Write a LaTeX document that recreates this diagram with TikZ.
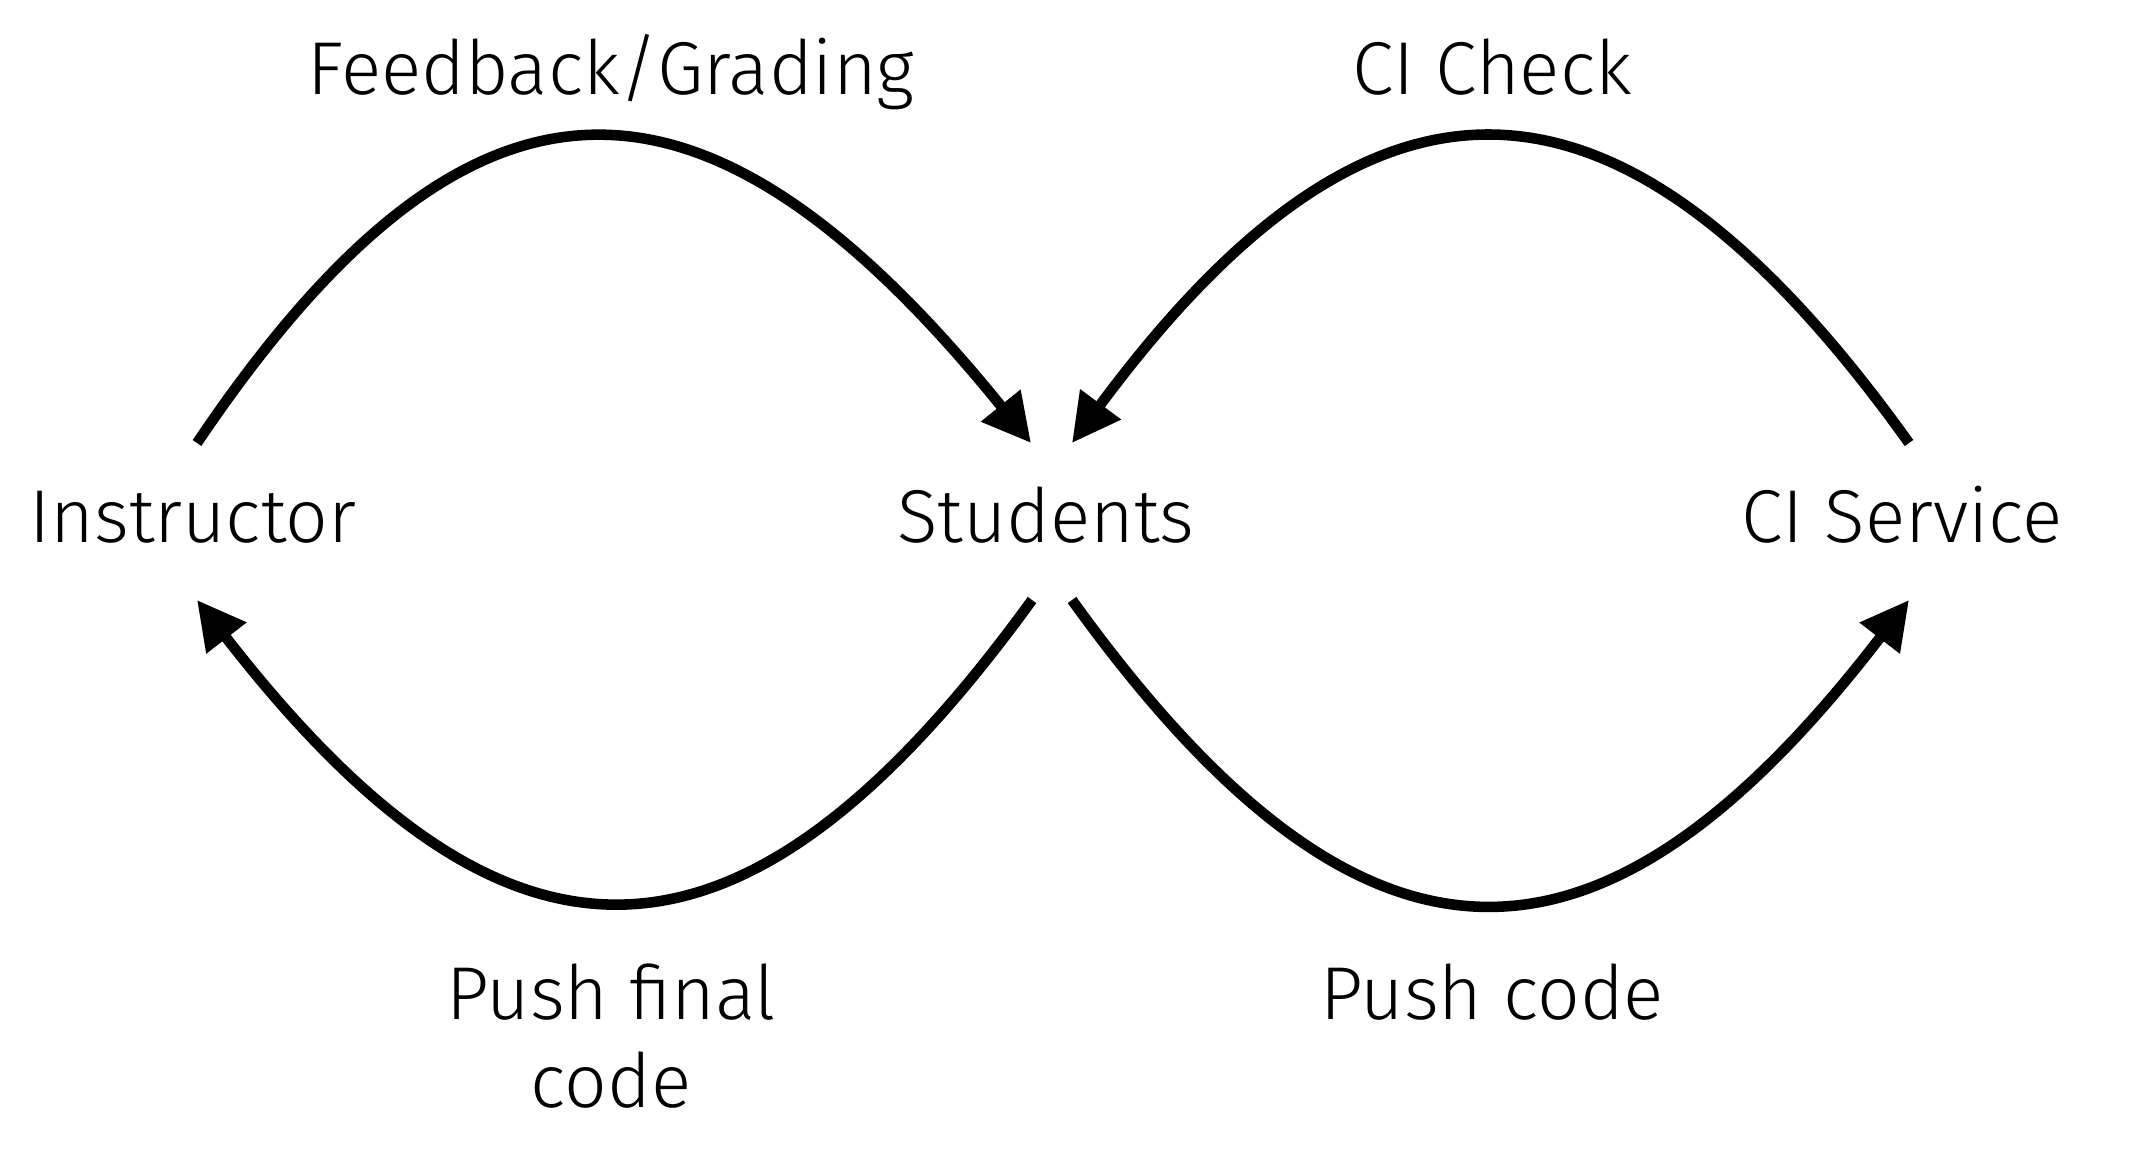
\documentclass[tikz,border=0pt]{standalone}
\usepackage{fontspec}
\setmainfont{Fira Sans Light}
\usetikzlibrary{arrows.meta}

\tikzset{
  flow/.style={line width=3pt, -{Triangle[length=13.7pt,width=13.7pt]}},
  lbl/.style={font=\fontsize{21.3}{26}\selectfont, anchor=base, inner sep=0pt}
}

\begin{document}
\begin{tikzpicture}[x=0.01cm, y=-0.01cm]
      \useasboundingbox (0,0) rectangle (2130,1149);

      % Define the positions of the nodes
      \node[lbl] (instr) at (193,542) {Instructor};
      \node[lbl] (stud) at (1046,542) {Students};
      \node[lbl] (ci) at (1902,542) {CI Service};

      \node[lbl] (fb) at (611,95) {Feedback/Grading};
      \node[lbl] (check) at (1492,95) {CI Check};
      \node[lbl] (final) at (611,1019) {Push final};
      \node[lbl] (final2) at (611,1107) {code};
      \node[lbl] (push) at (1492,1019) {Push code};

      % Draw the edges
      \draw[flow] ([shift={(4,-99)}]instr.base) .. controls +(273,-405) and +(-328,-405) .. ([shift={(-15,-99)}]stud.base);
      \draw[flow] ([shift={(7,-99)}]ci.base) .. controls +(-290,-405) and +(300,-405) .. ([shift={(26,-99)}]stud.base);

      \draw[flow] ([shift={(-14,58)}]stud.base) .. controls +(-290,400) and +(310,400) .. ([shift={(4,58)}]instr.base);
      \draw[flow] ([shift={(26,58)}]stud.base) .. controls +(290,403) and +(-310,403) .. ([shift={(7,58)}]ci.base);
  \end{tikzpicture}
\end{document}
